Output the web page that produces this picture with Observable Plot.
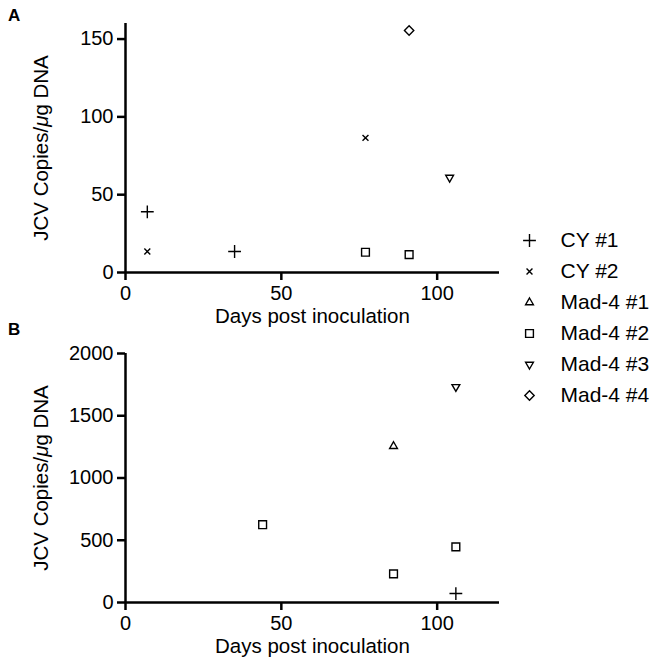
<!DOCTYPE html>
<html><head><meta charset="utf-8">
<script src="https://cdn.jsdelivr.net/npm/d3@7"></script>
<script src="https://cdn.jsdelivr.net/npm/@observablehq/plot@0.6"></script>
<style>
body{margin:0;background:#fff;font-family:"Liberation Sans",Arial,Helvetica,sans-serif;}
#wrap{position:relative;width:658px;height:668px;overflow:hidden;background:#fff;}
.panel{position:absolute;}
.tag{position:absolute;font-weight:bold;font-size:17px;line-height:1;color:#000;}
</style></head><body><div id="wrap"></div>
<script>
// ---- data ----
const seriesNames = ["CY #1", "CY #2", "Mad-4 #1", "Mad-4 #2", "Mad-4 #3", "Mad-4 #4"];
const xTicks = [0, 50, 100];

// Panel A
const aSeries = ["CY #1", "CY #1", "CY #2", "CY #2", "Mad-4 #2", "Mad-4 #2", "Mad-4 #3", "Mad-4 #4"];
const aDays   = [7, 35, 7, 77, 77, 91, 104, 91];
const aCopies = [39, 13.5, 13.5, 86.5, 13, 11.5, 61, 155.5];
const aTicks  = [0, 50, 100, 150];

// Panel B
const bSeries = ["CY #1", "Mad-4 #1", "Mad-4 #2", "Mad-4 #2", "Mad-4 #2", "Mad-4 #3"];
const bDays   = [106, 86, 44, 86, 106, 106];
const bCopies = [72, 1255, 625, 230, 447, 1732];
const bTicks  = [0, 500, 1000, 1500, 2000];

// ---- styles ----
const triangleDown = {
  draw(context, size) {
    const y = -Math.sqrt(size / (Math.sqrt(3) * 3));
    context.moveTo(0, -y * 2);
    context.lineTo(-Math.sqrt(3) * y, y);
    context.lineTo(Math.sqrt(3) * y, y);
    context.closePath();
  }
};
const symStyle = {
  "CY #1":    {symbol: "plus", r: 4.2},
  "CY #2":    {symbol: "times", r: 2.8},
  "Mad-4 #1": {symbol: "triangle", r: 2.9},
  "Mad-4 #2": {symbol: "square", r: 4.4},
  "Mad-4 #3": {symbol: triangleDown, r: 2.9},
  "Mad-4 #4": {symbol: "diamond2", r: 4.2}
};
const FONT = "'Liberation Sans', Arial, Helvetica, sans-serif";
const FS = 20;

function dotMarks(data, opts) {
  return seriesNames.map(s => {
    const st = symStyle[s];
    return Plot.dot(data.filter(d => d.series === s), {
      ...opts, symbol: st.symbol, r: st.r, stroke: "black", fill: "none", strokeWidth: 1.4
    });
  });
}

function italicMu(svg) {
  svg.querySelectorAll("text").forEach(t => {
    if (t.children.length === 0 && t.textContent.includes("μ")) {
      const parts = t.textContent.split("μ");
      t.textContent = "";
      parts.forEach((p, i) => {
        if (i > 0) {
          const ts = document.createElementNS("http://www.w3.org/2000/svg", "tspan");
          ts.setAttribute("font-style", "italic");
          ts.textContent = "μ";
          t.appendChild(ts);
        }
        if (p) t.appendChild(document.createTextNode(p));
      });
    }
  });
  return svg;
}

function panel(days, copies, series, yDomain, yTicks, height) {
  const data = days.map((d, i) => ({day: d, copies: copies[i], series: series[i]}));
  return italicMu(Plot.plot({
    width: 512, height: height,
    marginLeft: 125, marginRight: 13, marginTop: 23, marginBottom: height - 272,
    x: {domain: [0, 120]},
    y: {domain: yDomain},
    style: {fontFamily: FONT, fontSize: FS + "px", color: "black", background: "white", overflow: "visible"},
    marks: [
      Plot.axisX({ticks: xTicks, tickFormat: d => String(d), tickSize: 8, tickPadding: 5, strokeWidth: 2.5, fontSize: FS,
        label: null}),
      Plot.axisX({ticks: [], tickSize: 0, label: "Days post inoculation", labelAnchor: "center", labelArrow: "none",
        labelOffset: 50, fontSize: 20.5}),
      Plot.axisY({ticks: yTicks, tickFormat: d => String(d), tickSize: 8, tickPadding: 4, strokeWidth: 2.5, fontSize: FS,
        label: null}),
      Plot.axisY({ticks: [], tickSize: 0, label: "JCV Copies/μg DNA", labelAnchor: "center", labelArrow: "none",
        labelOffset: 92, fontSize: 20.5}),
      Plot.ruleX([0], {strokeWidth: 2.5}),
      Plot.ruleY([0], {strokeWidth: 2.5}),
      ...dotMarks(data, {x: "day", y: "copies"})
    ]
  }));
}

const wrap = document.getElementById("wrap");
function place(node, left, top) {
  node.classList.add("panel");
  node.style.left = left + "px";
  node.style.top = top + "px";
  wrap.appendChild(node);
}

place(panel(aDays, aCopies, aSeries, [0, 160], aTicks, 330), 0, 0);
place(panel(bDays, bCopies, bSeries, [0, 2000], bTicks, 338), 0, 330);

// legend
const legendRows = seriesNames.map(s => ({series: s}));
const legend = Plot.plot({
  width: 158, height: 200, margin: 0,
  x: {axis: null},
  y: {type: "point", domain: seriesNames, range: [18, 176], padding: 0, axis: null},
  style: {fontFamily: FONT, fontSize: "21px", color: "black", background: "white"},
  marks: [
    ...dotMarks(legendRows, {y: "series", frameAnchor: "left", dx: 29}),
    Plot.text(legendRows, {y: "series", text: "series", frameAnchor: "left", dx: 60, textAnchor: "start", fontSize: 21, fill: "black"})
  ]
});
place(legend, 500, 220);

// panel tags
for (const [t, top] of [["A", 7], ["B", 321]]) {
  const d = document.createElement("div");
  d.className = "tag";
  d.textContent = t;
  d.style.left = "8px";
  d.style.top = top + "px";
  wrap.appendChild(d);
}
</script></body></html>
